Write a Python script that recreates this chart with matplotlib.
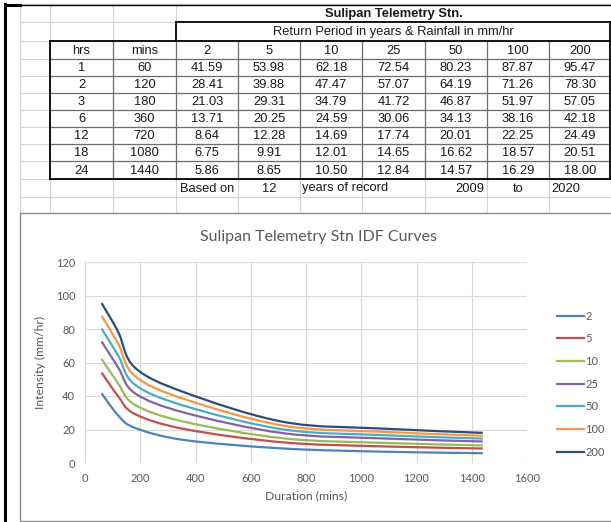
import matplotlib.pyplot as plt
from matplotlib.path import Path
from matplotlib.patches import PathPatch, Rectangle
from matplotlib.lines import Line2D

# ---------------------------------------------------
# Data (from the sheet)
# ---------------------------------------------------
hrs = [1, 2, 3, 6, 12, 18, 24]
mins = [60, 120, 180, 360, 720, 1080, 1440]
periods = ['2', '5', '10', '25', '50', '100', '200']
rp2 = [41.59, 28.41, 21.03, 13.71, 8.64, 6.75, 5.86]
rp5 = [53.98, 39.88, 29.31, 20.25, 12.28, 9.91, 8.65]
rp10 = [62.18, 47.47, 34.79, 24.59, 14.69, 12.01, 10.50]
rp25 = [72.54, 57.07, 41.72, 30.06, 17.74, 14.65, 12.84]
rp50 = [80.23, 64.19, 46.87, 34.13, 20.01, 16.62, 14.57]
rp100 = [87.87, 71.26, 51.97, 38.16, 22.25, 18.57, 16.29]
rp200 = [95.47, 78.30, 57.05, 42.18, 24.49, 20.51, 18.00]
series = [rp2, rp5, rp10, rp25, rp50, rp100, rp200]
colors = ['#4F81BD', '#C0504D', '#9BBB59', '#8064A2', '#4BACC6', '#F79646', '#2C4D75']
record_years = 12
first_year, last_year = 2009, 2020

W, H = 611, 522

# sheet geometry (pixels)
col_edges = [20, 50, 113, 176, 238, 300, 362, 425, 487, 549, 611]
row_edges = [4, 22, 41, 59, 76, 93, 110, 127, 144, 161, 179, 197, 213]


def excel_smooth_path(x, y):
    """Bezier path like Excel's 'smoothed line' option."""
    pts = list(zip(x, y))
    n = len(pts)
    verts = [pts[0]]
    codes = [Path.MOVETO]
    for i in range(n - 1):
        p0 = pts[max(i - 1, 0)]
        p1 = pts[i]
        p2 = pts[i + 1]
        p3 = pts[min(i + 2, n - 1)]
        c1 = (p1[0] + (p2[0] - p0[0]) / 6, p1[1] + (p2[1] - p0[1]) / 6)
        c2 = (p2[0] - (p3[0] - p1[0]) / 6, p2[1] - (p3[1] - p1[1]) / 6)
        verts += [c1, c2, p2]
        codes += [Path.CURVE4] * 3
    return Path(verts, codes)


fig = plt.figure(figsize=(W / 100, H / 100), dpi=100)
bg = fig.add_axes([0, 0, 1, 1])
bg.set_xlim(0, W)
bg.set_ylim(H, 0)
bg.axis('off')

grid_c = '#d4d4d4'
cell_c = '#6e6e6e'
tfont = dict(family='Liberation Sans', size=9.3, color='#1a1a1a')

# spreadsheet gridlines
for y in row_edges[:-1]:
    bg.plot([20, W], [y, y], color=grid_c, lw=0.8, zorder=1)
for x in col_edges:
    bg.plot([x, x], [4, 213], color=grid_c, lw=0.8, zorder=1)
# merged title rows -> white over inner gridlines
bg.add_patch(Rectangle((177, 5), W - 177, 35, facecolor='white', edgecolor='none', zorder=2))
# overflow of "years of record"
bg.add_patch(Rectangle((363, 180), 60, 16, facecolor='white', edgecolor='none', zorder=2))

# table cell borders
for y in row_edges[3:10]:
    bg.plot([50, W], [y, y], color=cell_c, lw=0.9, zorder=3)
for x in col_edges[2:-1]:
    bg.plot([x, x], [41, 179], color=cell_c, lw=0.9, zorder=3)

# thick outer borders
blk = dict(color='black', lw=1.3, zorder=4, solid_capstyle='projecting')
bg.plot([50, 50], [41, 179], **blk)
bg.plot([50, 176], [41, 41], **blk)
bg.plot([50, W], [179, 179], **blk)
bg.plot([176, W], [41, 41], **blk)
bg.plot([176, W], [22, 22], **blk)
bg.plot([176, 176], [22, 41], **blk)
bg.plot([W - 1, W - 1], [22, 179], **blk)

# image frame
bg.plot([5, 5], [4, H], color='black', lw=2.2, zorder=6)
bg.plot([5, 20], [4.5, 4.5], color='black', lw=2.2, zorder=6)
bg.plot([20, W], [4.5, 4.5], color='black', lw=1.0, zorder=6)


def cx(j):
    return (col_edges[j] + col_edges[j + 1]) / 2


def cy(i):
    return (row_edges[i] + row_edges[i + 1]) / 2 + 0.5


mid = (176 + W) / 2
bg.text(mid, cy(0), 'Sulipan Telemetry Stn.', ha='center', va='center',
        fontweight='bold', zorder=5, **tfont)
bg.text(mid, cy(1), 'Return Period in years & Rainfall in mm/hr', ha='center',
        va='center', zorder=5, **tfont)

bg.text(cx(1), cy(2), 'hrs', ha='center', va='center', zorder=5, **tfont)
bg.text(cx(2), cy(2), 'mins', ha='center', va='center', zorder=5, **tfont)
for j, p in enumerate(periods):
    bg.text(cx(3 + j), cy(2), p, ha='center', va='center', zorder=5, **tfont)

for i in range(len(hrs)):
    bg.text(cx(1), cy(3 + i), str(hrs[i]), ha='center', va='center', zorder=5, **tfont)
    bg.text(cx(2), cy(3 + i), str(mins[i]), ha='center', va='center', zorder=5, **tfont)
    for j, s in enumerate(series):
        bg.text(cx(3 + j), cy(3 + i), f'{s[i]:.2f}', ha='center', va='center',
                zorder=5, **tfont)

# footer row
bg.text(cx(3), cy(10), 'Based on', ha='center', va='center', zorder=5, **tfont)
bg.text(cx(4), cy(10), str(record_years), ha='center', va='center', zorder=5, **tfont)
bg.text(col_edges[5] + 2, cy(10), 'years of record', ha='left', va='center', zorder=5, **tfont)
bg.text(col_edges[8] - 3, cy(10), str(first_year), ha='right', va='center', zorder=5, **tfont)
bg.text(cx(8), cy(10), 'to', ha='center', va='center', zorder=5, **tfont)
bg.text(col_edges[9] + 2, cy(10), str(last_year), ha='left', va='center', zorder=5, **tfont)

# chart area box
bg.add_patch(Rectangle((20, 213), W, 308, facecolor='white', edgecolor='#8c8c8c',
                       lw=1.0, zorder=7))

# ---------------------------------------------------
# IDF chart
# ---------------------------------------------------
cfont = 'Lato'
gray = '#595959'
ax = fig.add_axes([85 / W, 1 - 463 / H, 442 / W, 201 / H])
ax.set_zorder(10)
ax.patch.set_alpha(0)

for s, c in zip(series, colors):
    ax.add_patch(PathPatch(excel_smooth_path(mins, s), facecolor='none',
                           edgecolor=c, lw=1.6, capstyle='butt'))

ax.set_xlim(0, 1600)
ax.set_ylim(0, 120)
ax.set_xticks(range(0, 1601, 200))
ax.set_yticks(range(0, 121, 20))
ax.grid(True, color='#d9d9d9', lw=0.8)
ax.set_axisbelow(True)
for sp in ax.spines.values():
    sp.set_visible(False)
ax.tick_params(length=0, labelsize=8, labelcolor=gray, pad=7)
for lab in ax.get_xticklabels() + ax.get_yticklabels():
    lab.set_family(cfont)

ax.set_xlabel('Duration (mins)', fontsize=8.8, color=gray, family=cfont, labelpad=5)
ax.set_ylabel('Intensity (mm/hr)', fontsize=8.8, color=gray, family=cfont, labelpad=7)

fig.text(318 / W, 1 - 237 / H, 'Sulipan Telemetry Stn IDF Curves', ha='center',
         va='center', fontsize=11.5, color=gray, family=cfont, zorder=11)

handles = [Line2D([], [], color=c, lw=1.6) for c in colors]
leg = fig.legend(handles, periods, loc='center left',
                 bbox_to_anchor=(557 / W, 1 - 384 / H), frameon=False,
                 borderpad=0, borderaxespad=0, handlelength=2.4,
                 handletextpad=0.15, labelspacing=1.05,
                 prop={'family': cfont, 'size': 8})
for t in leg.get_texts():
    t.set_color(gray)
leg.set_zorder(11)

fig.savefig('out.png', dpi=100)
